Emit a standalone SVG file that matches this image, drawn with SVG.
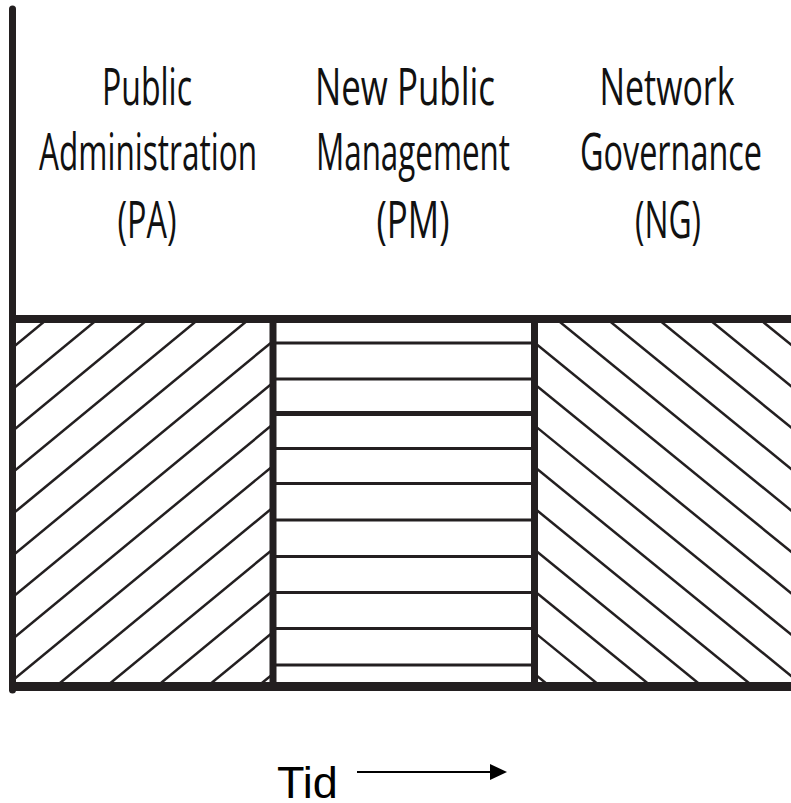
<svg xmlns="http://www.w3.org/2000/svg" width="791" height="803" viewBox="0 0 791 803">
  <defs>
    <clipPath id="clipPA"><rect x="16" y="322" width="254" height="361"/></clipPath>
    <clipPath id="clipNG"><rect x="537" y="322" width="260" height="361"/></clipPath>
    <marker id="arrowhead" markerWidth="17" markerHeight="16" refX="1" refY="8" orient="auto" markerUnits="userSpaceOnUse">
      <polygon points="0,0 17,8 0,16" fill="#000"/>
    </marker>
  </defs>
  <style>
    .hatch { stroke: #231f20; stroke-width: 2.5; fill: none; }
    .hline { stroke: #231f20; stroke-width: 3.2; }
    .frame { stroke: #231f20; fill: none; }
    .lbl { font-family: "Open Sans", "Noto Sans", sans-serif; font-size: 52px; fill: #111; text-anchor: middle; }
    .tid { font-family: "Liberation Sans", Arial, sans-serif; font-size: 45px; fill: #000; }
  </style>
  <rect width="791" height="803" fill="#fff"/>

  <g id="panel-pa" clip-path="url(#clipPA)">
    <line class="hatch" x1="0" y1="358" x2="300" y2="110.8"/>
    <line class="hatch" x1="0" y1="399.6" x2="300" y2="152.4"/>
    <line class="hatch" x1="0" y1="441.2" x2="300" y2="194"/>
    <line class="hatch" x1="0" y1="482.8" x2="300" y2="235.6"/>
    <line class="hatch" x1="0" y1="524.4" x2="300" y2="277.2"/>
    <line class="hatch" x1="0" y1="566" x2="300" y2="318.8"/>
    <line class="hatch" x1="0" y1="607.6" x2="300" y2="360.4"/>
    <line class="hatch" x1="0" y1="649.2" x2="300" y2="402"/>
    <line class="hatch" x1="0" y1="690.8" x2="300" y2="443.6"/>
    <line class="hatch" x1="0" y1="732.4" x2="300" y2="485.2"/>
    <line class="hatch" x1="0" y1="774" x2="300" y2="526.8"/>
    <line class="hatch" x1="0" y1="815.6" x2="300" y2="568.4"/>
    <line class="hatch" x1="0" y1="857.2" x2="300" y2="610"/>
    <line class="hatch" x1="0" y1="898.8" x2="300" y2="651.6"/>
  </g>

  <g id="panel-pm">
    <line class="hline" x1="276" y1="343" x2="531" y2="343"/>
    <line class="hline" x1="276" y1="379" x2="531" y2="379"/>
    <line class="hline" x1="276" y1="413.5" x2="531" y2="413.5" style="stroke-width:5"/>
    <line class="hline" x1="276" y1="448.5" x2="531" y2="448.5"/>
    <line class="hline" x1="276" y1="483.5" x2="531" y2="483.5"/>
    <line class="hline" x1="276" y1="520" x2="531" y2="520"/>
    <line class="hline" x1="276" y1="556.5" x2="531" y2="556.5"/>
    <line class="hline" x1="276" y1="592.5" x2="531" y2="592.5"/>
    <line class="hline" x1="276" y1="628.5" x2="531" y2="628.5"/>
    <line class="hline" x1="276" y1="665" x2="531" y2="665"/>
  </g>

  <g id="panel-ng" clip-path="url(#clipNG)">
    <line class="hatch" x1="530" y1="132" x2="800" y2="352"/>
    <line class="hatch" x1="530" y1="173.4" x2="800" y2="393.4"/>
    <line class="hatch" x1="530" y1="214.8" x2="800" y2="434.8"/>
    <line class="hatch" x1="530" y1="256.2" x2="800" y2="476.2"/>
    <line class="hatch" x1="530" y1="297.6" x2="800" y2="517.6"/>
    <line class="hatch" x1="530" y1="339" x2="800" y2="559"/>
    <line class="hatch" x1="530" y1="380.4" x2="800" y2="600.4"/>
    <line class="hatch" x1="530" y1="421.8" x2="800" y2="641.8"/>
    <line class="hatch" x1="530" y1="463.2" x2="800" y2="683.2"/>
    <line class="hatch" x1="530" y1="504.6" x2="800" y2="724.6"/>
    <line class="hatch" x1="530" y1="546" x2="800" y2="766"/>
    <line class="hatch" x1="530" y1="587.4" x2="800" y2="807.4"/>
    <line class="hatch" x1="530" y1="628.8" x2="800" y2="848.8"/>
    <line class="hatch" x1="530" y1="670.2" x2="800" y2="890.2"/>
  </g>

  <g id="frame">
    <line class="frame" x1="12.5" y1="9" x2="12.5" y2="690" style="stroke-width:7;stroke-linecap:round"/>
    <line class="frame" x1="9" y1="319" x2="791" y2="319" style="stroke-width:8"/>
    <line class="frame" x1="9" y1="686.5" x2="791" y2="686.5" style="stroke-width:9"/>
    <line class="frame" x1="273" y1="319" x2="273" y2="686" style="stroke-width:7"/>
    <line class="frame" x1="534.5" y1="319" x2="534.5" y2="686" style="stroke-width:7"/>
  </g>

  <g id="label-pa">
    <text class="lbl" x="147" y="105" textLength="90" lengthAdjust="spacingAndGlyphs">Public</text>
    <text class="lbl" x="148" y="170" textLength="218" lengthAdjust="spacingAndGlyphs">Administration</text>
    <text class="lbl" x="147" y="238" textLength="59" lengthAdjust="spacingAndGlyphs">(PA)</text>
  </g>
  <g id="label-pm">
    <text class="lbl" x="405" y="105" textLength="180" lengthAdjust="spacingAndGlyphs">New Public</text>
    <text class="lbl" x="413" y="170" textLength="194" lengthAdjust="spacingAndGlyphs">Management</text>
    <text class="lbl" x="413" y="238" textLength="73" lengthAdjust="spacingAndGlyphs">(PM)</text>
  </g>
  <g id="label-ng">
    <text class="lbl" x="667" y="105" textLength="135" lengthAdjust="spacingAndGlyphs">Network</text>
    <text class="lbl" x="671" y="170" textLength="182" lengthAdjust="spacingAndGlyphs">Governance</text>
    <text class="lbl" x="668" y="238" textLength="66" lengthAdjust="spacingAndGlyphs">(NG)</text>
  </g>

  <g id="connectors">
    <text class="tid" x="277" y="798">Tid</text>
    <line x1="357" y1="772" x2="491" y2="772" stroke="#000" stroke-width="2" marker-end="url(#arrowhead)"/>
  </g>
</svg>
